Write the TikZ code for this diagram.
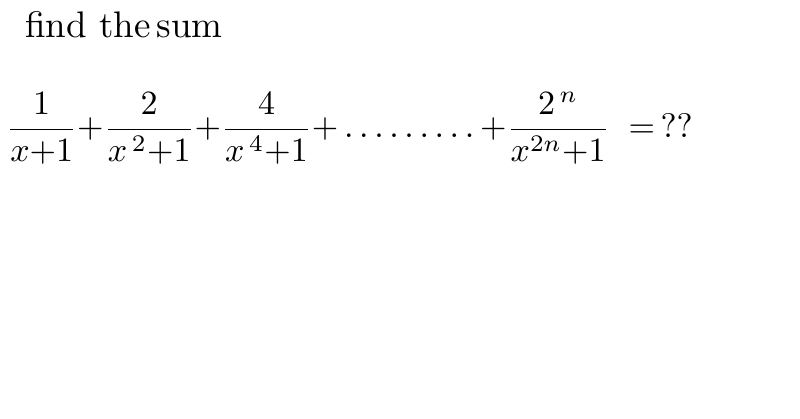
\documentclass[tikz,border=0pt]{standalone}
\usepackage{amsmath}
\usepackage{graphicx}
\begin{document}
\begin{tikzpicture}[x=1pt,y=1pt]
\useasboundingbox (0,0) rectangle (800,418);
\node[anchor=west,inner sep=0] (t) at (25,393) {\scalebox{3.7}{find the\,sum}};
\node[anchor=west,inner sep=0] (f) at (6,290)
 {\scalebox{3.4}{$\dfrac{1}{x{+}1}{+}\dfrac{2}{x^{\,2}{+}1}{+}\dfrac{4}{x^{\,4}{+}1}{+}\ldots\ldots\ldots{+}\dfrac{2^{\,n}}{x^{2n}{+}1}\;=\,??$}};
\end{tikzpicture}
\end{document}
